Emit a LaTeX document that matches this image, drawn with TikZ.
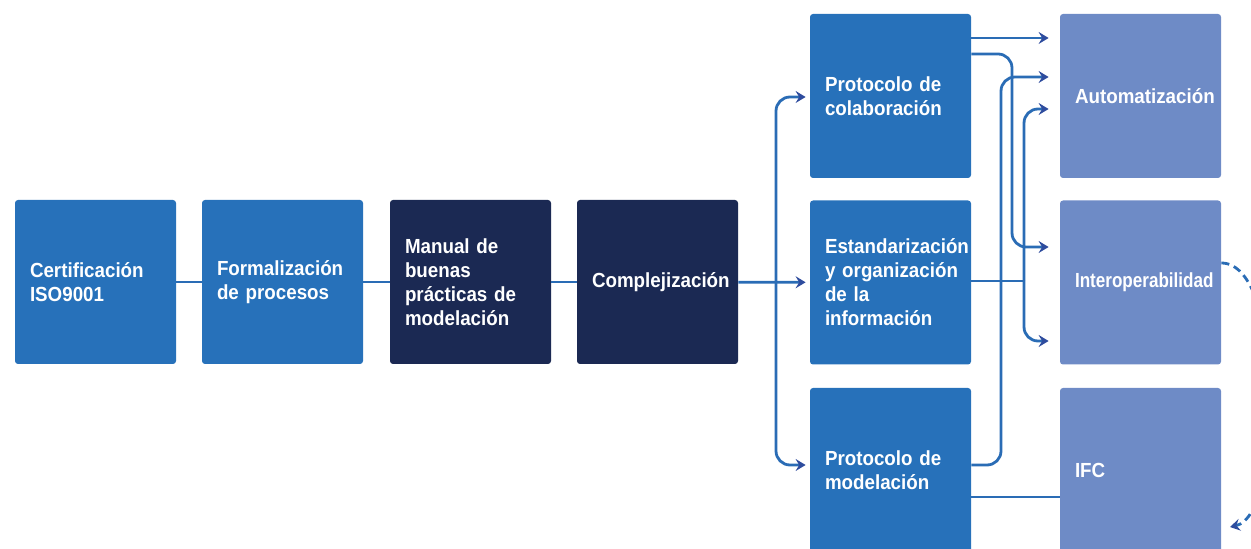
\documentclass[tikz,border=0pt]{standalone}
\usepackage{fontspec}
\setmainfont[FakeStretch=0.92]{Liberation Sans}
\usepackage{xcolor}
\usepackage{tikz}
\usetikzlibrary{arrows.meta, positioning, calc}
\definecolor{BIMBlue}{RGB}{39, 113, 186}
\definecolor{BIMNavy}{RGB}{27, 41, 83}
\definecolor{BIMLight}{RGB}{110, 139, 198}
\definecolor{BIMLine}{RGB}{42, 108, 181}
\definecolor{BIMTip}{RGB}{46, 76, 158}
\newcommand{\stagefont}{\fontsize{10.2}{12}\selectfont\bfseries
  \hyphenpenalty=10000\relax\exhyphenpenalty=10000\relax}

\tikzset{
  stagebox/.style={
    rounded corners=1.5pt, fill=BIMBlue, draw=none,
    minimum width=80.5pt, minimum height=82pt,
    text width=65.5pt, inner xsep=7.5pt, align=left,
    font=\stagefont, text=white
  },
  darkbox/.style={stagebox, fill=BIMNavy},
  goalbox/.style={stagebox, fill=BIMLight},
  link/.style={draw=BIMLine, line width=1.4pt},
  linkarrow/.style={link, -{Stealth[length=5pt, width=6pt, inset=1.8pt, color=BIMTip]}, shorten >=5.5pt},
  curvy/.style={rounded corners=7pt}
}

\begin{document}
\begin{tikzpicture}[x=0.5pt, y=-0.5pt]
  \useasboundingbox (0,0) rectangle (1251,549);

  \coordinate (split) at (776,282);
  \coordinate (hub) at (1024,281);

  % main chain
  \node[stagebox] (cert)    at (95.5,282)  {Certificación\\ISO9001};
  \node[stagebox] (form)    at (282.5,282) {Formalización\\de procesos};
  \node[darkbox]  (manual)  at (470.5,282) {Manual de\\buenas\\prácticas de\\modelación};
  \node[darkbox]  (complej) at (657.5,282) {Complejización};

  % middle column
  \node[stagebox] (colab)   at (890.5,96)  {Protocolo de\\colaboración};
  \node[stagebox] (estand)  at (890.5,282.5) {Estandarización\\y~organización\\de la\\información};
  \node[stagebox] (modelac) at (890.5,470) {Protocolo de\\modelación};

  % goals
  \node[goalbox] (auto)    at (1140.5,96)  {Automatización};
  \node[goalbox] (interop) at (1140.5,282.5) {\scalebox{0.91}[1]{Interoperabilidad}};
  \node[goalbox] (ifc)     at (1140.5,470) {IFC};

  % connectors
  \draw[link] (cert) -- (form);
  \draw[link] (form) -- (manual);
  \draw[link] (manual) -- (complej);
  \draw[linkarrow, shorten >=2pt] (complej) -- (estand);
  \draw[linkarrow, curvy, shorten >=2pt] (split) |- (colab.west |- 0,97);
  \draw[linkarrow, curvy, shorten >=2pt] (split) |- (modelac.west |- 0,465);

  \draw[linkarrow] (colab.east |- 0,38) -- (auto.west |- 0,38);
  \draw[linkarrow, curvy] (colab.east |- 0,54) -| (1012,150) |- (interop.west |- 0,247);
  \draw[linkarrow, curvy] (modelac.east |- 0,465) -| (1001,300) |- (auto.west |- 0,77);
  \draw[link] (estand.east |- hub) -- (hub);
  \draw[linkarrow, curvy] (hub) |- (auto.west |- 0,109);
  \draw[linkarrow, curvy] (hub) |- (interop.west |- 0,341);
  \draw[link] (modelac.east |- 0,497) -- (ifc.west |- 0,497);

  \draw[linkarrow, dashed, dash pattern=on 4pt off 2.5pt, shorten >=0pt]
    (interop.east |- 0,263) .. controls (1285,263) and (1285,515) .. (1230,527);
\end{tikzpicture}
\end{document}
